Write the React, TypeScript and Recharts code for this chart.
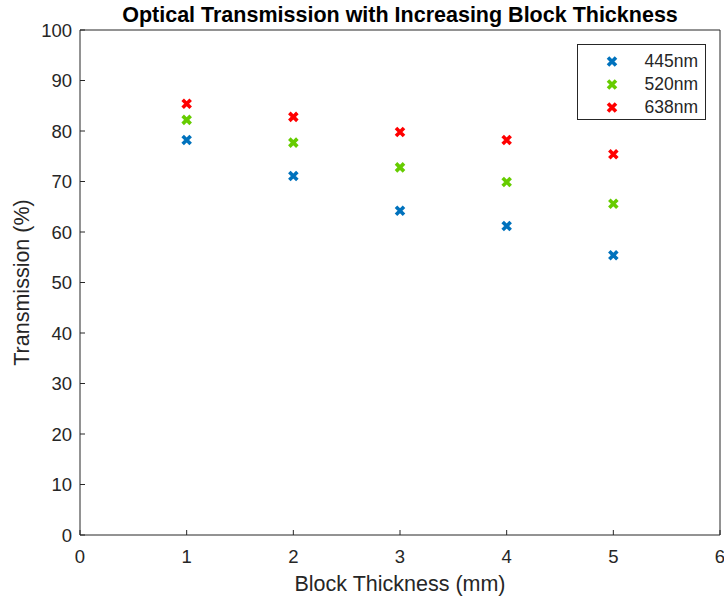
import { ScatterChart, Scatter, XAxis, YAxis, Legend } from "recharts";

// transmission (%), one value per block thickness
const thickness = [1, 2, 3, 4, 5];
const t445 = [78.2, 71.1, 64.2, 61.2, 55.4];
const t520 = [82.2, 77.7, 72.8, 69.9, 65.6];
const t638 = [85.4, 82.8, 79.8, 78.2, 75.4];

const xTicks = [0, 1, 2, 3, 4, 5, 6];
const yTicks = [0, 10, 20, 30, 40, 50, 60, 70, 80, 90, 100];

const series = [
  { name: "445nm", color: "#0072BD", values: t445 },
  { name: "520nm", color: "#66CC00", values: t520 },
  { name: "638nm", color: "#FF0000", values: t638 },
];

const INK = "#262626";
const FONT = "'Liberation Sans', Arial, Helvetica, sans-serif";

function crossPath(cx: number, cy: number, r: number) {
  return `M${cx - r},${cy - r}L${cx + r},${cy + r}M${cx - r},${cy + r}L${cx + r},${cy - r}`;
}

function Cross(props: any) {
  const { cx, cy, fill } = props;
  if (cx == null || cy == null) return null;
  return <path d={crossPath(cx, cy, 4)} stroke={fill} strokeWidth={3.6} fill="none" />;
}

// mirror axes keep their inward tick marks but no labels
const NoLabel = () => <g />;

function LegendBox() {
  return (
    <div
      style={{
        width: 129,
        height: 76,
        boxSizing: "border-box",
        border: "1px solid #262626",
        background: "#fff",
        paddingTop: 5,
        fontFamily: FONT,
        fontSize: 17.5,
        color: INK,
      }}
    >
      {series.map((s) => (
        <div key={s.name} style={{ display: "flex", alignItems: "center", height: 23 }}>
          <svg width={70} height={23}>
            <path d={crossPath(34, 11.5, 4)} stroke={s.color} strokeWidth={3.6} fill="none" />
          </svg>
          <span style={{ flex: 1, textAlign: "right", paddingRight: 7 }}>{s.name}</span>
        </div>
      ))}
    </div>
  );
}

export default function App() {
  const tickStyle = { fill: INK, fontSize: 18.5, fontFamily: FONT };
  return (
    <div style={{ position: "absolute", left: 0, top: 0, width: 724, height: 598, background: "#fff" }}>
      <svg width={724} height={30} style={{ position: "absolute", left: 0, top: 0 }}>
        <text x={400} y={22} textAnchor="middle" fontFamily={FONT} fontWeight="bold" fontSize={21.5} fill="#000">
          Optical Transmission with Increasing Block Thickness
        </text>
      </svg>
      <div style={{ position: "absolute", left: 0, top: 0 }}>
        <ScatterChart width={724} height={598} margin={{ top: 29, right: 3, left: 0, bottom: 0 }}>
          <XAxis
            type="number"
            dataKey="x"
            domain={[0, 6]}
            ticks={xTicks}
            interval={0}
            height={63}
            stroke={INK}
            tick={tickStyle}
            tickSize={-5}
            tickMargin={20}
            label={{
              content: (p: any) => (
                <text
                  x={p.viewBox.x + p.viewBox.width / 2}
                  y={p.viewBox.y + 56}
                  textAnchor="middle"
                  fontFamily={FONT}
                  fontSize={21.5}
                  fill={INK}
                >
                  Block Thickness (mm)
                </text>
              ),
            }}
          />
          <XAxis
            xAxisId="top"
            orientation="top"
            type="number"
            domain={[0, 6]}
            ticks={xTicks}
            interval={0}
            height={1}
            stroke={INK}
            tick={NoLabel}
            tickSize={-5}
          />
          <YAxis
            type="number"
            dataKey="y"
            domain={[0, 100]}
            ticks={yTicks}
            interval={0}
            width={80}
            stroke={INK}
            tick={tickStyle}
            tickSize={-5}
            tickMargin={13}
            label={{
              content: (p: any) => {
                const cx = p.viewBox.x + 22;
                const cy = p.viewBox.y + p.viewBox.height / 2;
                return (
                  <text
                    x={cx}
                    y={cy}
                    transform={`rotate(-90, ${cx}, ${cy})`}
                    textAnchor="middle"
                    dominantBaseline="central"
                    fontFamily={FONT}
                    fontSize={21.5}
                    fill={INK}
                  >
                    Transmission (%)
                  </text>
                );
              },
            }}
          />
          <YAxis
            yAxisId="right"
            orientation="right"
            type="number"
            domain={[0, 100]}
            ticks={yTicks}
            interval={0}
            width={1}
            stroke={INK}
            tick={NoLabel}
            tickSize={-5}
          />
          {series.map((s) => (
            <Scatter
              key={s.name}
              name={s.name}
              data={thickness.map((x, i) => ({ x, y: s.values[i] }))}
              fill={s.color}
              shape={Cross}
              isAnimationActive={false}
            />
          ))}
          <Legend
            layout="vertical"
            align="center"
            verticalAlign="middle"
            content={() => <LegendBox />}
            wrapperStyle={{ position: "absolute", left: 577, top: 44, width: 129, height: 76 }}
          />
        </ScatterChart>
      </div>
    </div>
  );
}
